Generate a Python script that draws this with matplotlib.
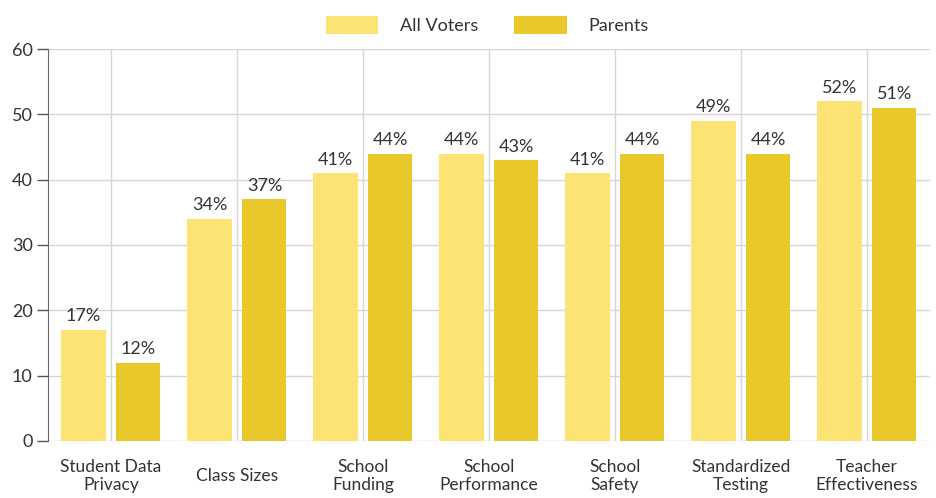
import matplotlib.pyplot as plt
import numpy as np

categories = ["Student Data\nPrivacy", "Class Sizes", "School\nFunding", "School\nPerformance",
              "School\nSafety", "Standardized\nTesting", "Teacher\nEffectiveness"]
all_voters = [17, 34, 41, 44, 41, 49, 52]
parents = [12, 37, 44, 43, 44, 44, 51]

c_all = "#FDE373"
c_par = "#E9C82C"
txt = "#333333"

plt.rcParams['font.family'] = ['Lato', 'DejaVu Sans']

fig = plt.figure(figsize=(9.37, 4.98), dpi=100)
ax = fig.add_axes([0.0512, 0.1145, 0.9413, 0.7871])

x = np.arange(len(categories))
w = 0.35
off = 0.218
r1 = ax.bar(x - off, all_voters, w, color=c_all, zorder=2, label="All Voters")
r2 = ax.bar(x + off, parents, w, color=c_par, zorder=2, label="Parents")

for rects in (r1, r2):
    for rect in rects:
        h = rect.get_height()
        ax.annotate('{}%'.format(h), xy=(rect.get_x() + rect.get_width() / 2, h),
                    xytext=(0, 4), textcoords='offset points',
                    ha='center', va='bottom', fontsize=13, color=txt)

ax.set_xlim(-0.5, len(categories) - 0.5)
ax.set_ylim(0, 60)
ax.set_yticks(range(0, 61, 10))
ax.set_xticks(x)
ax.set_xticklabels(categories, fontsize=12.5, color=txt, linespacing=1.15, va='center')
ax.tick_params(axis='x', length=0, pad=25)
ax.tick_params(axis='y', length=8, width=1, color="#555555", labelsize=13, labelcolor=txt, pad=3)

ax.grid(True, color="#d5d5d5", linewidth=1, zorder=0)
ax.set_axisbelow(True)
for s in ('top', 'right', 'bottom'):
    ax.spines[s].set_visible(False)
ax.spines['left'].set_color("#666666")

fig.legend(loc='upper center', bbox_to_anchor=(0.52, 1.0), ncol=2, frameon=False,
           fontsize=13, handlelength=2.9, handleheight=1.15, columnspacing=2.0,
           labelcolor=txt, handletextpad=1.2)

plt.savefig("out.png", dpi=100)
